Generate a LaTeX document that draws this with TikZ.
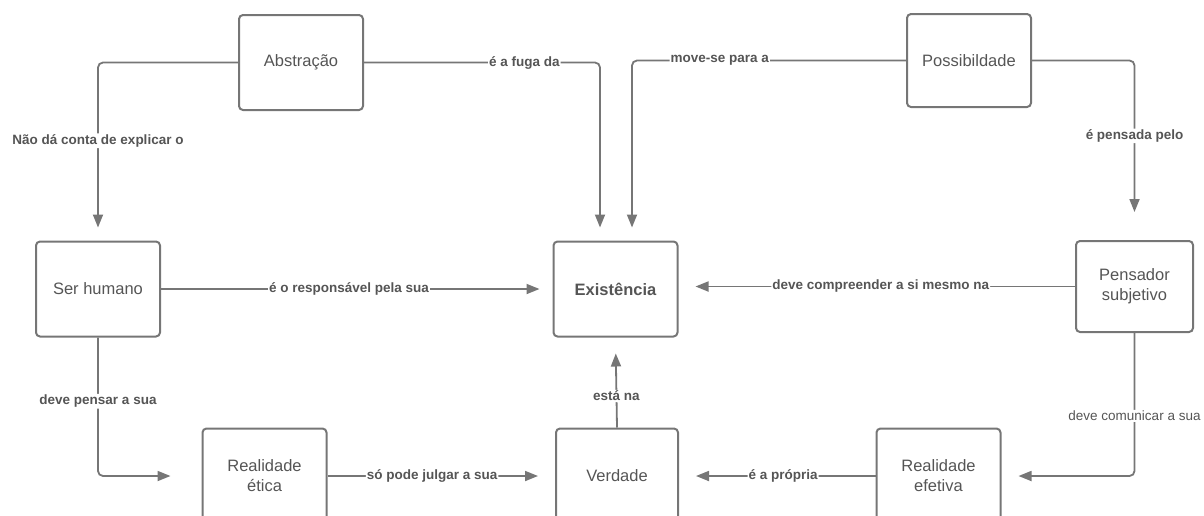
\documentclass[tikz,border=0pt]{standalone}
\usepackage{fontspec}
\setmainfont{Liberation Sans}
\usetikzlibrary{arrows.meta}
\definecolor{linha}{RGB}{118,118,118}
\definecolor{texto}{RGB}{85,85,85}
\begin{document}
\begin{tikzpicture}[x=1pt,y=-1pt,
    caixa/.style={draw=linha,line width=2pt,rounded corners=4pt,
        minimum width=124pt,minimum height=95pt,align=center,
        text=texto,font=\fontsize{16.5}{20}\selectfont},
    seta/.style={draw=linha,line width=1.8pt,rounded corners=5pt,
        -{Triangle[length=13pt,width=10pt]}},
    rotulo/.style={fill=white,inner sep=1pt,text=texto,
        font=\fontsize{13.5}{16}\selectfont\bfseries},
    ]
    \useasboundingbox (0,0) rectangle (1204,515);
    \clip (0,0) rectangle (1204,515);
    \path
    (301,62.5) node[caixa] (abs) {Abstração} % <<< linha 1
    (969,60.5) node[caixa,minimum height=93pt] (pos) {Possibildade}
    (98,289) node[caixa] (ser) {Ser humano} % <<< linha 2
    (615.5,289) node[caixa,font=\fontsize{16.5}{20}\selectfont\bfseries] (ex) {Existência}
    (1134.5,286.5) node[caixa,minimum width=117pt,minimum height=91pt] (pen) {Pensador\\subjetivo}
    (264.5,476) node[caixa] (ret) {Realidade\\ética} % <<< linha 3
    (617,476) node[caixa,minimum width=122pt] (ver) {Verdade}
    (938.5,476) node[caixa] (ref) {Realidade\\efetiva};
    \draw[seta,shorten >=13pt] (abs.west) -| (ser.north)
        node[rotulo,pos=.72] {Não dá conta de explicar o};
    \draw[seta,shorten >=13pt] (abs.east) -| ([xshift=-15.5pt]ex.north)
        node[rotulo,pos=.34] {é a fuga da};
    \draw[seta,shorten >=13pt] (pos.west) -| ([xshift=16.5pt]ex.north)
        node[rotulo,pos=.34] {move-se para a};
    \draw[seta,shorten >=28pt] (pos.east) -| (pen.north)
        node[rotulo,pos=.71] {é pensada pelo};
    \draw[seta,shorten >=13pt] (ser.east) -- (ex.west)
        node[rotulo,pos=.48] {é o responsável pela sua};
    \draw[seta,shorten >=17pt] (pen.west) -- (pen.west -| ex.east)
        node[rotulo,pos=.49] {deve compreender a si mesmo na};
    \draw[seta,shorten >=31pt] (ser.south) |- (ret.west)
        node[rotulo,pos=.23] {deve pensar a sua};
    \draw[seta,shorten >=17pt] (ret.east) -- (ver.west)
        node[rotulo,pos=.46] {só pode julgar a sua};
    \draw[seta,shorten >=17pt] (ref.west) -- (ver.east)
        node[rotulo,pos=.47] {é a própria};
    \draw[seta,shorten >=16pt] (ver.north) -- (ex.south)
        node[rotulo,pos=.35] {está na};
    \draw[seta,shorten >=17pt] (pen.south) |- (ref.east)
        node[rotulo,pos=.29,font=\fontsize{13.5}{16}\selectfont] {deve comunicar a sua};
\end{tikzpicture}
\end{document}
